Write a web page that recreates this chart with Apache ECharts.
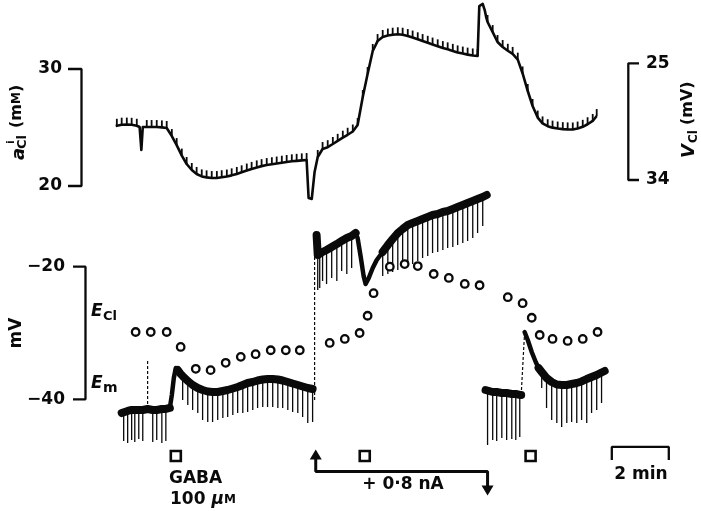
<!DOCTYPE html>
<html><head><meta charset="utf-8">
<script src="https://cdn.jsdelivr.net/npm/echarts/dist/echarts.min.js"></script>
<style>html,body{margin:0;padding:0;background:#fff}#c{width:701px;height:511px}</style>
</head><body><div id="c"></div>
<script>
// ---------- DATA (time in min, aCl in mM, potentials in mV) ----------
// intracellular Cl- activity trace: [time, aCl, sample pulse tick (1/0)]
const aClTrace = [
[0.56,25.13,0],[0.60,25.15,1],[0.77,25.24,1],[0.95,25.25,1],[1.12,25.23,1],[1.30,25.15,1],
[1.40,25.04,0],[1.46,23.08,0],[1.51,25.04,0],
[1.65,25.04,1],[1.82,25.04,1],[2.00,25.04,1],[2.18,25.01,1],[2.35,24.96,1],[2.53,24.27,1],
[2.70,23.50,1],[2.88,22.60,1],[3.05,21.88,1],[3.23,21.37,1],[3.40,21.03,1],[3.58,20.82,1],
[3.75,20.74,1],[3.93,20.68,1],[4.11,20.68,1],[4.28,20.75,1],[4.46,20.81,1],[4.63,20.91,1],
[4.81,21.03,1],[4.98,21.17,1],[5.16,21.32,1],[5.33,21.46,1],[5.51,21.59,1],[5.68,21.70,1],
[5.86,21.79,1],[6.04,21.86,1],[6.21,21.92,1],[6.39,21.99,1],[6.56,22.05,1],[6.74,22.11,1],
[6.91,22.15,1],[7.09,22.19,1],[7.26,22.22,1],
[7.30,22.22,0],[7.33,18.97,0],[7.44,18.89,0],[7.54,21.20,0],
[7.65,22.48,1],[7.82,23.16,1],[8.00,23.32,1],[8.18,23.59,1],[8.35,23.86,1],[8.53,24.13,1],
[8.70,24.38,1],[8.88,24.66,1],[9.05,25.21,1],[9.23,27.61,1],[9.40,29.57,1],[9.58,31.54,1],
[9.75,32.39,1],[9.93,32.74,1],[10.11,32.86,1],[10.28,32.93,1],[10.46,32.97,1],[10.63,32.93,1],
[10.81,32.82,1],[10.98,32.69,1],[11.16,32.54,1],[11.33,32.39,1],[11.51,32.24,1],[11.68,32.09,1],
[11.86,31.94,1],[12.04,31.79,1],[12.21,31.68,1],[12.39,31.55,1],[12.56,31.42,1],[12.74,31.32,1],
[12.91,31.23,1],[13.09,31.16,1],[13.26,31.11,1],
[13.28,31.11,0],[13.32,35.38,0],[13.44,35.56,0],[13.51,35.04,0],[13.56,34.44,0],
[13.61,34.02,1],[13.79,33.16,1],[13.96,32.31,1],[14.14,31.88,1],[14.32,31.56,1],[14.49,31.29,1],
[14.67,30.80,1],[14.84,29.62,1],[15.02,28.12,1],[15.19,26.84,1],[15.37,25.85,1],[15.54,25.35,1],
[15.72,25.11,1],[15.89,24.99,1],[16.07,24.91,1],[16.25,24.86,1],[16.42,24.84,1],[16.60,24.83,1],
[16.77,24.91,1],[16.95,25.06,1],[17.12,25.28,1],[17.30,25.56,1],[17.44,25.98,1]
];

// membrane potential Em: [time, band level, tip of downward pulse or null]
const emSeg1 = [
[0.77,-42.07,null],[0.84,-41.92,-46.29],[0.98,-41.76,-46.59],[1.12,-41.61,-46.14],[1.23,-41.61,-46.44],
[1.37,-41.61,-45.99],[1.51,-41.61,-46.29],[1.68,-41.46,null],[1.86,-41.61,-46.44],[2.00,-41.61,-46.14],
[2.18,-41.46,-46.59],[2.32,-41.46,-46.29],[2.46,-41.31,null],[2.53,-39.35,null],[2.60,-36.79,null],
[2.67,-35.28,null],[2.74,-35.58,null],[2.84,-36.18,null],[2.91,-36.49,-40.11],[3.09,-37.24,-40.86],
[3.26,-37.84,-41.61],[3.44,-38.30,-42.07],[3.61,-38.60,-43.12],[3.79,-38.82,-43.42],[3.96,-38.90,-43.42],
[4.14,-38.90,-43.12],[4.32,-38.75,-42.82],[4.49,-38.60,-42.67],[4.67,-38.37,-42.37],[4.84,-38.14,-42.07],
[5.02,-37.84,-42.07],[5.19,-37.54,-41.92],[5.37,-37.39,-41.61],[5.54,-37.16,-41.31],[5.72,-37.01,-41.16],
[5.89,-36.94,-41.16],[6.07,-36.94,-41.16],[6.25,-37.01,-41.31],[6.42,-37.16,-41.31],[6.60,-37.39,-41.61],
[6.77,-37.62,-41.92],[6.95,-37.84,-42.07],[7.12,-38.07,-42.67],[7.30,-38.30,-43.57],[7.47,-38.45,-43.42]
];
const emSeg2 = [
[7.61,-15.22,null],[7.65,-18.24,-23.51],[7.72,-18.09,-23.21],[7.82,-17.78,-22.16],[7.96,-17.48,-22.61],
[8.14,-17.03,-21.71],[8.32,-16.58,-22.16],[8.49,-16.12,-20.65],[8.67,-15.67,-21.10],[8.84,-15.37,-20.20],
[8.98,-14.92,null],[9.05,-15.67,null],[9.16,-18.54,null],[9.26,-21.40,null],[9.33,-22.61,null],
[9.44,-21.70,null],[9.58,-20.20,null],[9.72,-18.99,null],[9.93,-17.78,-21.40],[10.11,-16.73,-21.10],
[10.28,-15.82,-20.80],[10.46,-14.92,-20.50],[10.63,-14.31,-20.20],[10.81,-13.71,-19.89],[10.98,-13.41,-19.59],
[11.16,-13.11,-19.14],[11.33,-12.81,-18.69],[11.51,-12.50,-18.39],[11.68,-12.20,-17.93],[11.86,-12.05,-17.78],
[12.04,-11.75,-17.48],[12.21,-11.60,-17.18],[12.39,-11.30,-17.03],[12.56,-11.00,-16.73],[12.74,-10.69,-16.43],
[12.91,-10.39,-16.12],[13.09,-10.09,-15.67],[13.26,-9.79,-14.92],[13.44,-9.49,-13.86],[13.58,-9.18,null]
];
const emSeg3a = [
[13.54,-38.60,null],[13.61,-38.75,-46.89],[13.79,-38.90,-46.14],[13.93,-38.90,-46.29],[14.11,-39.05,-45.84],
[14.28,-39.05,-46.14],[14.46,-39.20,-45.99],[14.60,-39.20,-46.14],[14.74,-39.35,-45.69],[14.79,-39.35,null]
];
const emSeg3b = [
[14.91,-29.85,null],[15.02,-31.06,null],[15.16,-32.87,null],[15.30,-34.37,null],[15.40,-35.28,null],
[15.51,-35.88,-38.30],[15.68,-36.79,-41.31],[15.86,-37.39,-43.12],[16.04,-37.77,-43.57],[16.21,-37.84,-44.18],
[16.39,-37.84,-43.57],[16.56,-37.69,-43.42],[16.74,-37.54,-43.57],[16.91,-37.31,-43.12],[17.09,-36.94,-43.57],
[17.26,-36.64,-42.07],[17.44,-36.34,-41.61],[17.61,-35.96,-40.56],[17.72,-35.73,null]
];
// faint transition strokes: [t1, v1, t2, v2]
const emTransitions = [
[1.68,-41.46,1.68,-34.07],
[7.54,-40.11,7.54,-15.97],
[14.79,-39.35,14.91,-29.85]
];
// E_Cl points (open circles)
const eCl = [
[1.26,-29.85],[1.79,-29.85],[2.35,-29.85],[2.84,-32.1],[3.37,-35.4],[3.89,-35.6],[4.42,-34.5],[4.95,-33.6],
[5.47,-33.2],[6.00,-32.6],[6.53,-32.6],[7.02,-32.6],[8.07,-31.5],[8.60,-30.9],[9.12,-30.0],[9.40,-27.4],
[9.61,-24.0],[10.18,-20.0],[10.70,-19.6],[11.16,-19.9],[11.72,-21.1],[12.25,-21.7],[12.81,-22.6],[13.33,-22.8],
[14.32,-24.6],[14.84,-25.5],[15.16,-27.7],[15.44,-30.3],[15.89,-30.9],[16.42,-31.2],[16.95,-30.9],[17.47,-29.85]
];
const gabaTimes = [2.67, 9.30, 15.12];
const currentOnOff = [7.58, 13.61];
const currentLabel = '+ 0·8 nA';
const aClTicks = [30, 20];     // mM
const vClTicks = [25, 34];     // mV
const mVTicks = [-20, -40];    // mV
const timeBar = 2;             // min

// ---------- LAYOUT / STYLE ----------
const FONT = '"DejaVu Sans", sans-serif';
const INK = '#0a0a0a';
const L = {
  topBar: -0.64, topTick: -1.114,
  rightBar: 18.549, rightTick: 18.924,
  botBar: -0.50, botTick: -0.938,
  barStart: 17.97, barY: -47.19, barTickY: -49.15,
  gabaY: -48.55,
  curY: -50.89, curUpBase: -48.85, curUpHead: -48.33, curDnBase: -53.08, curDnHead: -53.76
};
// thinner stroke for the fast transitions inside the Em segments: [from, to] time windows
const thinWindows = [[2.46, 2.74], [8.98, 9.93], [14.91, 15.40]];
const fmt = v => String(v).replace('-', '\u2212');

const chart = echarts.init(document.getElementById('c'), null, {renderer: 'canvas'});
const lineBase = {type: 'line', symbol: 'none', silent: true, animation: false};
const tickLabel = {show: true, fontSize: 17, fontWeight: 'bold', fontFamily: FONT, color: INK, distance: 6,
  formatter: p => fmt(p.value[1])};

const spikes = [].concat(emSeg1, emSeg2, emSeg3a, emSeg3b).filter(d => d[2] !== null);
const emLine = (seg, a, b, w) => Object.assign({}, lineBase, {
  xAxisIndex: 1, yAxisIndex: 2,
  data: seg.filter(d => d[0] >= a && d[0] <= b).map(d => [d[0], d[1]]),
  lineStyle: {color: INK, width: w, join: 'round', cap: 'round'}
});
const emSeries = [];
[emSeg1, emSeg2, emSeg3a, emSeg3b].forEach(seg => {
  const t0 = seg[0][0], t1 = seg[seg.length - 1][0];
  let cur = t0;
  thinWindows.forEach(([a, b]) => {
    if (a >= t0 && b <= t1) {
      emSeries.push(emLine(seg, cur, a, 8));
      emSeries.push(emLine(seg, a, b, 4.5));
      cur = b;
    }
  });
  emSeries.push(emLine(seg, cur, t1, 8));
});
const opaque = {opacity: 1};

const option = {
  animation: false,
  backgroundColor: '#fff',
  grid: [
    {left: 0, top: 0, width: 701, height: 244.5},
    {left: 0, top: 167.25, width: 701, height: 331.5}
  ],
  xAxis: [
    {gridIndex: 0, type: 'value', min: -3.5, max: 21.1, show: false},
    {gridIndex: 1, type: 'value', min: -3.5, max: 21.1, show: false}
  ],
  yAxis: [
    {gridIndex: 0, type: 'value', min: 15, max: 35.9, show: false},
    {gridIndex: 0, type: 'value', min: 20.118, max: 38.974, inverse: true, show: false},
    {gridIndex: 1, type: 'value', min: -55, max: -5, show: false}
  ],
  series: [
    Object.assign({}, lineBase, {
      xAxisIndex: 0, yAxisIndex: 0, showSymbol: true, showAllSymbol: true,
      symbol: 'rect', symbolSize: [1.8, 7], symbolOffset: [0, -3.5],
      itemStyle: {color: INK, opacity: 1},
      lineStyle: {color: INK, width: 2.6, join: 'round'},
      data: aClTrace.map(d => ({value: [d[0], d[1]], symbol: d[2] ? 'rect' : 'none'}))
    })
  ].concat(emSeries, [
    {
      type: 'custom', xAxisIndex: 1, yAxisIndex: 2, silent: true, data: spikes,
      renderItem: (params, api) => {
        const a = api.coord([api.value(0), api.value(1)]);
        const b = api.coord([api.value(0), api.value(2)]);
        return {type: 'line', shape: {x1: a[0], y1: a[1], x2: b[0], y2: b[1]},
          style: {stroke: INK, lineWidth: 1.3}};
      }
    },
    {
      type: 'custom', xAxisIndex: 1, yAxisIndex: 2, silent: true, data: emTransitions,
      renderItem: (params, api) => {
        const a = api.coord([api.value(0), api.value(1)]);
        const b = api.coord([api.value(2), api.value(3)]);
        return {type: 'line', shape: {x1: a[0], y1: a[1], x2: b[0], y2: b[1]},
          style: {stroke: INK, lineWidth: 1.2, lineDash: [3, 2]}};
      }
    },
    {
      type: 'scatter', xAxisIndex: 1, yAxisIndex: 2, silent: true, data: eCl,
      symbol: 'circle', symbolSize: 7.5,
      itemStyle: {color: '#fff', borderColor: INK, borderWidth: 2.3, opacity: 1}
    },
    {
      type: 'scatter', xAxisIndex: 1, yAxisIndex: 2, silent: true,
      data: gabaTimes.map(t => [t, L.gabaY]), symbol: 'rect', symbolSize: 10,
      itemStyle: {color: '#fff', borderColor: INK, borderWidth: 2.6, opacity: 1}
    },
    // scale brackets
    Object.assign({}, lineBase, {xAxisIndex: 0, yAxisIndex: 0, lineStyle: {color: INK, width: 2.3},
      data: [[L.topTick, aClTicks[0]], [L.topBar, aClTicks[0]], [L.topBar, aClTicks[1]], [L.topTick, aClTicks[1]]]}),
    Object.assign({}, lineBase, {xAxisIndex: 0, yAxisIndex: 1, lineStyle: {color: INK, width: 2.3},
      data: [[L.rightTick, vClTicks[0]], [L.rightBar, vClTicks[0]], [L.rightBar, vClTicks[1]], [L.rightTick, vClTicks[1]]]}),
    Object.assign({}, lineBase, {xAxisIndex: 1, yAxisIndex: 2, lineStyle: {color: INK, width: 2.3},
      data: [[L.botTick, mVTicks[0]], [L.botBar, mVTicks[0]], [L.botBar, mVTicks[1]], [L.botTick, mVTicks[1]]]}),
    Object.assign({}, lineBase, {xAxisIndex: 1, yAxisIndex: 2, lineStyle: {color: INK, width: 2.3},
      data: [[L.barStart, L.barTickY], [L.barStart, L.barY], [L.barStart + timeBar, L.barY], [L.barStart + timeBar, L.barTickY]]}),
    // tick labels
    {type: 'scatter', xAxisIndex: 0, yAxisIndex: 0, silent: true, symbolSize: 0, itemStyle: opaque,
      data: aClTicks.map(v => [L.topTick, v]), label: Object.assign({position: 'left'}, tickLabel)},
    {type: 'scatter', xAxisIndex: 0, yAxisIndex: 1, silent: true, symbolSize: 0, itemStyle: opaque,
      data: vClTicks.map(v => [L.rightTick, v]), label: Object.assign({position: 'right'}, tickLabel, {distance: 7})},
    {type: 'scatter', xAxisIndex: 1, yAxisIndex: 2, silent: true, symbolSize: 0, itemStyle: opaque,
      data: mVTicks.map(v => [L.botTick, v]), label: Object.assign({position: 'left'}, tickLabel, {distance: 8})},
    // current step
    Object.assign({}, lineBase, {xAxisIndex: 1, yAxisIndex: 2, lineStyle: {color: INK, width: 3},
      data: [[currentOnOff[0], L.curUpBase], [currentOnOff[0], L.curY], [currentOnOff[1], L.curY], [currentOnOff[1], L.curDnBase]]}),
    {type: 'scatter', xAxisIndex: 1, yAxisIndex: 2, silent: true, symbol: 'triangle', symbolSize: [12, 10],
      itemStyle: {color: INK, opacity: 1},
      data: [{value: [currentOnOff[0], L.curUpHead]}, {value: [currentOnOff[1], L.curDnHead], symbolRotate: 180}]}
  ]),
  graphic: [
    {type: 'group', x: 19, y: 160, rotation: Math.PI / 2, children: [
      {type: 'text', x: 0, y: 0, style: {text: 'a', fontSize: 18, fontWeight: 'bold', fontStyle: 'italic', fontFamily: FONT, fill: INK, align: 'left', verticalAlign: 'middle'}},
      {type: 'text', x: 16, y: -7.5, style: {text: 'i', fontSize: 11, fontWeight: 'bold', fontFamily: FONT, fill: INK, align: 'left', verticalAlign: 'middle'}},
      {type: 'text', x: 11, y: 3.5, style: {text: 'Cl', fontSize: 13, fontWeight: 'bold', fontFamily: FONT, fill: INK, align: 'left', verticalAlign: 'middle'}},
      {type: 'text', x: 32, y: -2, style: {text: '{p|(m}{s|M}{p|)}', align: 'left', verticalAlign: 'middle', fill: INK,
        rich: {p: {fontSize: 16, fontWeight: 'bold', fontFamily: FONT, color: INK}, s: {fontSize: 12, fontWeight: 'bold', fontFamily: FONT, color: INK}}}}
    ]},
    {type: 'group', x: 689, y: 158, rotation: Math.PI / 2, children: [
      {type: 'text', x: 0, y: 0, style: {text: 'V', fontSize: 18, fontWeight: 'bold', fontStyle: 'italic', fontFamily: FONT, fill: INK, align: 'left', verticalAlign: 'middle'}},
      {type: 'text', x: 15, y: 5, style: {text: 'Cl', fontSize: 12, fontWeight: 'bold', fontFamily: FONT, fill: INK, align: 'left', verticalAlign: 'middle'}},
      {type: 'text', x: 33, y: -1, style: {text: '(mV)', fontSize: 16, fontWeight: 'bold', fontFamily: FONT, fill: INK, align: 'left', verticalAlign: 'middle'}}
    ]},
    {type: 'text', x: 17, y: 333, rotation: Math.PI / 2, style: {text: 'mV', fontSize: 17, fontWeight: 'bold', fontFamily: FONT, fill: INK, align: 'center', verticalAlign: 'middle'}},
    {type: 'text', x: 91, y: 311.5, style: {text: 'E', fontSize: 17, fontWeight: 'bold', fontStyle: 'italic', fontFamily: FONT, fill: INK, align: 'left', verticalAlign: 'middle'}},
    {type: 'text', x: 103, y: 317, style: {text: 'Cl', fontSize: 13, fontWeight: 'bold', fontFamily: FONT, fill: INK, align: 'left', verticalAlign: 'middle'}},
    {type: 'text', x: 91, y: 384, style: {text: 'E', fontSize: 17, fontWeight: 'bold', fontStyle: 'italic', fontFamily: FONT, fill: INK, align: 'left', verticalAlign: 'middle'}},
    {type: 'text', x: 103, y: 388, style: {text: 'm', fontSize: 14, fontWeight: 'bold', fontFamily: FONT, fill: INK, align: 'left', verticalAlign: 'middle'}},
    {type: 'text', x: 169, y: 479, style: {text: 'GABA', fontSize: 17, fontWeight: 'bold', fontFamily: FONT, fill: INK, align: 'left', verticalAlign: 'middle'}},
    {type: 'text', x: 170, y: 500, style: {text: '{n|100 }{m|μ}{s|M}', align: 'left', verticalAlign: 'middle', fill: INK,
      rich: {n: {fontSize: 17, fontWeight: 'bold', fontFamily: FONT, color: INK},
             m: {fontSize: 17, fontWeight: 'bold', fontStyle: 'italic', fontFamily: FONT, color: INK},
             s: {fontSize: 12, fontWeight: 'bold', fontFamily: FONT, color: INK}}}},
    {type: 'text', x: 403, y: 485, style: {text: currentLabel, fontSize: 17, fontWeight: 'bold', fontFamily: FONT, fill: INK, align: 'center', verticalAlign: 'middle'}},
    {type: 'text', x: 641, y: 475, style: {text: timeBar + ' min', fontSize: 17, fontWeight: 'bold', fontFamily: FONT, fill: INK, align: 'center', verticalAlign: 'middle'}}
  ]
};
chart.setOption(option);
</script></body></html>
